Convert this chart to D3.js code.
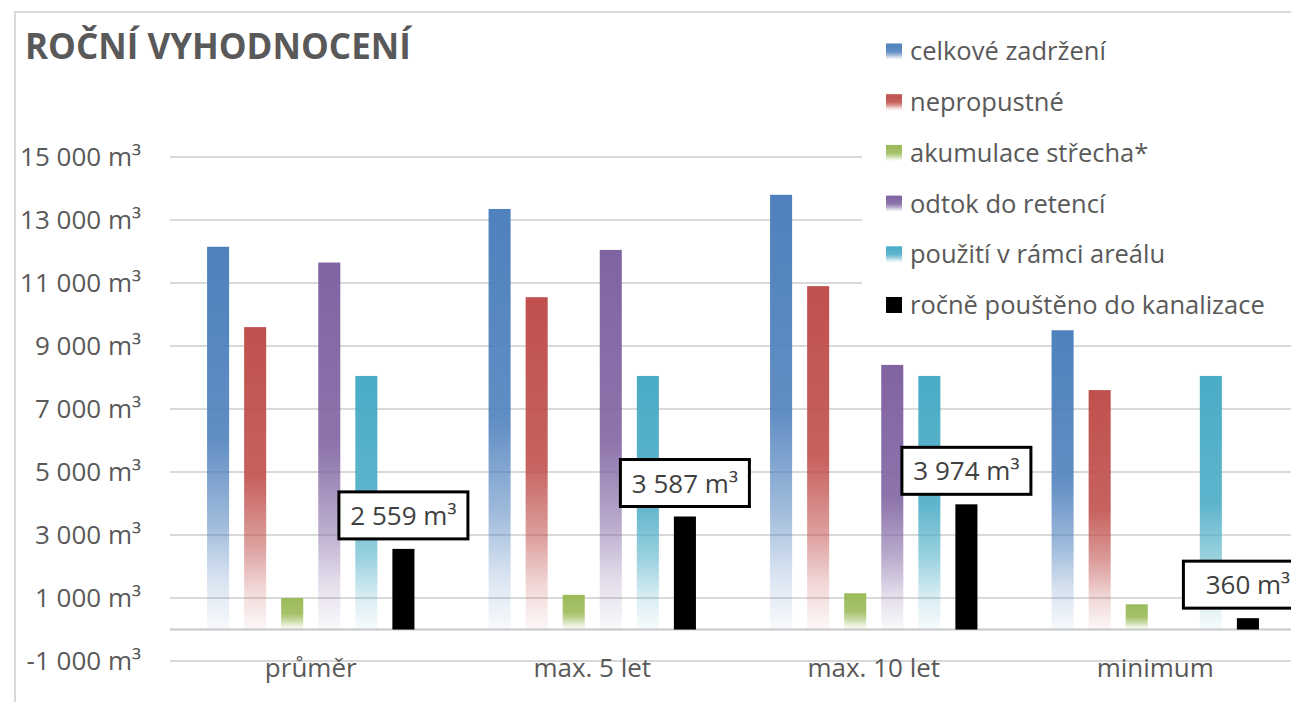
<!DOCTYPE html>
<html>
<head>
    <meta charset="utf-8">
    <title>Roční vyhodnocení</title>
    <script src="https://d3js.org/d3.v7.min.js"></script>
    <style>
        body { margin: 0; background: #fff; }
        svg { font-family: "Open Sans", sans-serif; }
        .axis text { fill: #595959; font-size: 26px; font-family: "Open Sans", sans-serif; }
        .axis path { display: none; }
    </style>
</head>
<body>
<script>

// categories and series
var categories = ["průměr", "max. 5 let", "max. 10 let", "minimum"];
var seriesNames = ["celkové zadržení", "nepropustné", "akumulace střecha*",
                   "odtok do retencí", "použití v rámci areálu", "ročně pouštěno do kanalizace"];

// values (m3)
var celkoveZadrzeni = [12150, 13350, 13800, 9500];
var nepropustne     = [9600, 10550, 10900, 7600];
var akumulace       = [1000, 1100, 1150, 800];
var odtokRetence    = [11650, 12050, 8400, 0];
var pouzitiAreal    = [8050, 8050, 8050, 8050];
var kanalizace      = [2559, 3587, 3974, 360];

var yTicks = [-1000, 1000, 3000, 5000, 7000, 9000, 11000, 13000, 15000];

var seriesValues = [celkoveZadrzeni, nepropustne, akumulace, odtokRetence, pouzitiAreal, kanalizace];
var colors = ["#4f81bd", "#c0504d", "#9bbb59", "#8064a2", "#4bacc6", "#000000"];

var W = 1291, H = 702;
var plot = { left: 170, right: 1296, top: 157, bottom: 661 };

var locale = d3.formatLocale({ decimal: ",", thousands: " ", grouping: [3], currency: ["", ""], minus: "-" });
var fmt = locale.format(",d");
function m3(v) { return fmt(v) + " m³"; }

var svg = d3.select("body").append("svg")
    .attr("width", W)
    .attr("height", H);

var defs = svg.append("defs");
colors.forEach(function (c, i) {
    if (i == 5) return;
    var g = defs.append("linearGradient")
        .attr("id", "grad" + i)
        .attr("x1", 0).attr("y1", 0).attr("x2", 0).attr("y2", 1);
    [[0, 1], [0.5, 0.9], [0.72, 0.55], [0.87, 0.22], [1, 0.04]].forEach(function (s) {
        g.append("stop")
            .attr("offset", s[0])
            .attr("stop-color", c)
            .attr("stop-opacity", s[1]);
    });
});

// chart frame
svg.append("rect")
    .attr("x", 15).attr("y", 12)
    .attr("width", 1400).attr("height", 800)
    .attr("fill", "none")
    .attr("stroke", "#d9d9d9")
    .attr("stroke-width", 2);

var x0 = d3.scaleBand()
    .domain(categories)
    .range([plot.left, plot.right])
    .padding(0);

var x1 = d3.scaleBand()
    .domain(d3.range(seriesNames.length))
    .range([0, x0.bandwidth()])
    .paddingInner(0.405)
    .paddingOuter(1);

var y = d3.scaleLinear()
    .domain([-1000, 15000])
    .range([plot.bottom, plot.top]);

// gridlines
svg.append("g")
    .attr("class", "grid")
    .selectAll("line")
    .data(yTicks)
    .enter().append("line")
    .attr("x1", plot.left)
    .attr("x2", W)
    .attr("y1", function (d) { return y(d); })
    .attr("y2", function (d) { return y(d); })
    .attr("stroke", "#d9d9d9")
    .attr("stroke-width", 2);

svg.append("line")
    .attr("x1", plot.left).attr("x2", W)
    .attr("y1", y(0)).attr("y2", y(0))
    .attr("stroke", "#c8c8c8")
    .attr("stroke-width", 2);

// y axis
svg.append("g")
    .attr("class", "axis")
    .attr("transform", "translate(" + plot.left + ",0)")
    .call(d3.axisLeft(y).tickValues(yTicks).tickSize(0).tickPadding(29).tickFormat(m3));

// x axis (labels at the low end)
svg.append("g")
    .attr("class", "axis")
    .attr("transform", "translate(0," + y(-1000) + ")")
    .call(d3.axisBottom(x0).tickSize(0).tickPadding(-2));

// bars
var groups = svg.append("g").selectAll("g")
    .data(categories)
    .enter().append("g")
    .attr("transform", function (d) { return "translate(" + x0(d) + ",0)"; });

groups.selectAll("rect")
    .data(function (d, ci) {
        return seriesValues.map(function (vals, si) { return { s: si, v: vals[ci] }; });
    })
    .enter().append("rect")
    .filter(function (d) { return d.v > 0; })
    .attr("x", function (d) { return x1(d.s); })
    .attr("width", x1.bandwidth())
    .attr("y", function (d) { return y(d.v); })
    .attr("height", function (d) { return y(0) - y(d.v); })
    .attr("fill", function (d) { return d.s == 5 ? "#000" : "url(#grad" + d.s + ")"; });

// data labels on the sewer series (fixed size boxes)
var boxW = 129, boxH = 47;
categories.forEach(function (c, ci) {
    var cx = x0(c) + x1(5) + x1.bandwidth() / 2;
    var top = y(kanalizace[ci]);
    var lbl = svg.append("g");
    lbl.append("rect")
        .attr("x", cx - boxW / 2)
        .attr("y", top - 57)
        .attr("width", boxW)
        .attr("height", boxH)
        .attr("fill", "#fff")
        .attr("stroke", "#000")
        .attr("stroke-width", 3);
    lbl.append("text")
        .attr("x", cx)
        .attr("y", top - 33)
        .attr("dy", "0.35em")
        .attr("text-anchor", "middle")
        .attr("fill", "#404040")
        .style("font-size", "26px")
        .text(m3(kanalizace[ci]));
});

// legend
var legend = svg.append("g");
legend.append("rect")
    .attr("x", 862).attr("y", 25)
    .attr("width", 440).attr("height", 305)
    .attr("fill", "#fff");

var items = legend.selectAll("g.item")
    .data(seriesNames)
    .enter().append("g")
    .attr("class", "item")
    .attr("transform", function (d, i) { return "translate(886," + (51.5 + i * 50.7) + ")"; });

items.append("rect")
    .attr("x", 0).attr("y", -8)
    .attr("width", 16).attr("height", 16)
    .attr("fill", function (d, i) { return i == 5 ? "#000" : "url(#grad" + i + ")"; });

items.append("text")
    .attr("x", 24)
    .attr("dy", "0.35em")
    .attr("fill", "#595959")
    .style("font-size", "25.5px")
    .text(function (d) { return d; });

// title
svg.append("text")
    .attr("x", 25)
    .attr("y", 59)
    .attr("fill", "#595959")
    .style("font-size", "35px")
    .style("font-weight", "bold")
    .text("ROČNÍ VYHODNOCENÍ");

</script>
</body>
</html>
